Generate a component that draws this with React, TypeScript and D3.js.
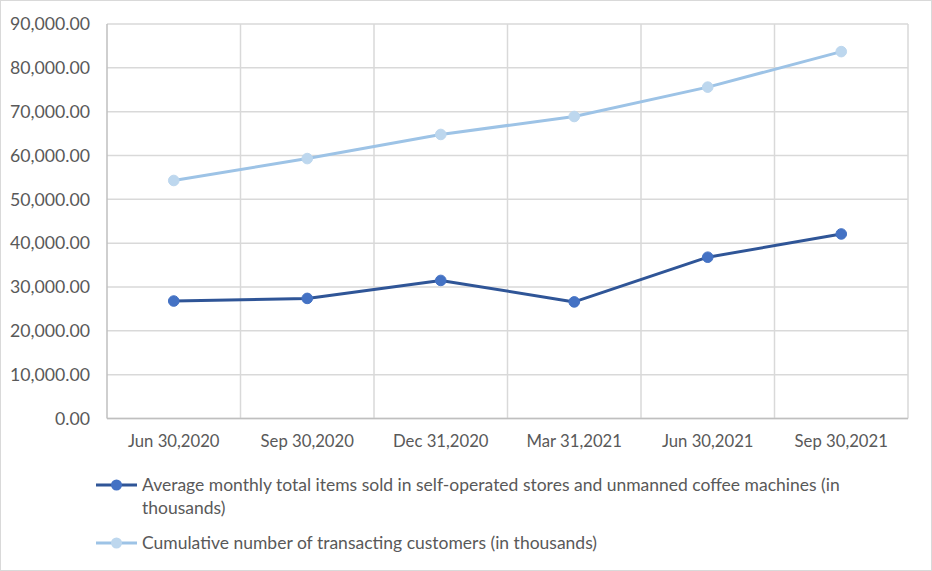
import React, { useEffect } from "react";
import * as d3 from "d3";

const categories = ["Jun 30,2020", "Sep 30,2020", "Dec 31,2020", "Mar 31,2021", "Jun 30,2021", "Sep 30,2021"];
const itemsSold = [26800, 27400, 31500, 26600, 36800, 42100];
const customers = [54300, 59300, 64800, 68900, 75600, 83700];
const yTicks = [0, 10000, 20000, 30000, 40000, 50000, 60000, 70000, 80000, 90000];
const seriesNames = [
  "Average monthly total items sold in self-operated stores and unmanned coffee machines (in",
  "thousands)",
  "Cumulative number of transacting customers (in thousands)",
];

const W = 932;
const H = 571;
const M = { left: 107, right: 908, top: 24, bottom: 418.5 };
const FONT = "Lato, 'Open Sans', sans-serif";
const TXT = "#595959";

export default function App() {
  useEffect(() => {
    document.body.style.margin = "0";
  }, []);

  const x = d3.scaleBand<string>().domain(categories).range([M.left, M.right]);
  const y = d3.scaleLinear().domain([0, 90000]).range([M.bottom, M.top]);
  const cx = (c: string) => (x(c) as number) + x.bandwidth() / 2;
  const line = d3
    .line<number>()
    .x((_, i) => cx(categories[i]))
    .y((d) => y(d));
  const fmt = d3.format(",.2f");

  const series = [
    { values: customers, stroke: "#9dc3e6", fill: "#bdd7ee" },
    { values: itemsSold, stroke: "#2f5597", fill: "#4472c4" },
  ];

  return (
    <svg width={W} height={H} style={{ display: "block", fontFamily: FONT }}>
      <rect x={0} y={0} width={W} height={H} fill="#fff" />
      <rect x={0.5} y={0.5} width={W - 1} height={H - 1} fill="none" stroke="#d9d9d9" />
      {yTicks.map((t) => (
        <line key={"h" + t} x1={M.left} x2={M.right} y1={y(t)} y2={y(t)} stroke="#d9d9d9" strokeWidth={1.5} />
      ))}
      {categories.map((c, i) => {
        const xx = x(c) as number;
        return (
          <line key={"v" + c} x1={xx} x2={xx} y1={M.top} y2={M.bottom} stroke={i === 0 ? "#bfbfbf" : "#d9d9d9"} strokeWidth={1.5} />
        );
      })}
      <line x1={M.right} x2={M.right} y1={M.top} y2={M.bottom} stroke="#d9d9d9" strokeWidth={1.5} />
      <line x1={M.left} x2={M.right} y1={M.bottom} y2={M.bottom} stroke="#bfbfbf" strokeWidth={1.5} />
      {yTicks.map((t) => (
        <text key={"yl" + t} x={90} y={y(t)} dy="0.35em" textAnchor="end" fontSize={17.7} fill={TXT}>
          {fmt(t)}
        </text>
      ))}
      {categories.map((c) => (
        <text key={"xl" + c} x={cx(c)} y={441} dy="0.35em" textAnchor="middle" fontSize={16.7} fill={TXT}>
          {c}
        </text>
      ))}
      {series.map((s, si) => (
        <g key={"s" + si}>
          <path d={line(s.values) || ""} fill="none" stroke={s.stroke} strokeWidth={3} strokeLinejoin="round" />
          {s.values.map((v, i) => (
            <circle key={i} cx={cx(categories[i])} cy={y(v)} r={5.3} fill={s.fill} stroke={s.fill} />
          ))}
        </g>
      ))}
      <g>
        <line x1={96} x2={137} y1={485} y2={485} stroke="#2f5597" strokeWidth={3} />
        <circle cx={116.5} cy={485} r={5.5} fill="#4472c4" />
        <text x={142} y={485} dy="0.35em" fontSize={17.5} fill={TXT}>{seriesNames[0]}</text>
        <text x={142} y={508} dy="0.35em" fontSize={17.5} fill={TXT}>{seriesNames[1]}</text>
        <line x1={96} x2={137} y1={543} y2={543} stroke="#9dc3e6" strokeWidth={3} />
        <circle cx={116.5} cy={543} r={5.5} fill="#bdd7ee" />
        <text x={142} y={543} dy="0.35em" fontSize={17.5} fill={TXT}>{seriesNames[2]}</text>
      </g>
    </svg>
  );
}
